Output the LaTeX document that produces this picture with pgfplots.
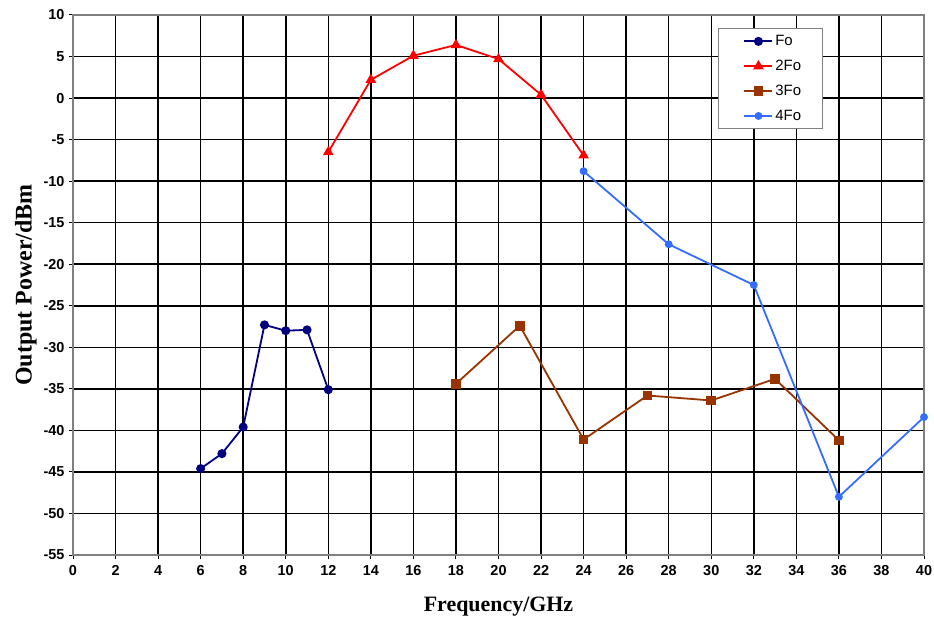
\documentclass[border=0pt]{standalone}
\usepackage{pgfplots}
\pgfplotsset{compat=1.18}
\usepackage{fontspec}
\setmainfont{Liberation Serif}
\setsansfont{Liberation Sans}

\definecolor{foblue}{RGB}{0,0,128}
\definecolor{twored}{RGB}{255,0,0}
\definecolor{threebrown}{RGB}{153,51,0}
\definecolor{fourblue}{RGB}{51,110,255}

\newcommand{\entry}[1]{#1\hspace*{11bp}}

\begin{document}
\begin{tikzpicture}
\useasboundingbox (-73bp,-64bp) rectangle (861bp,555bp);
\begin{axis}[
  at={(0,0)}, anchor=south west,
  scale only axis,
  width=851bp, height=540bp,
  xmin=0, xmax=40, ymin=-55, ymax=10,
  xtick={0,2,...,40}, ytick={-55,-50,...,10},
  grid=major,
  major grid style={black, line width=1.5bp},
  axis line style={gray, line width=1.2bp},
  tick align=outside, major tick length=4bp,
  tick style={black, line width=1bp},
  xtick pos=bottom, ytick pos=left,
  /pgf/number format/assume math mode=true,
  ticklabel style={font=\sffamily\bfseries\fontsize{14.5}{15}\selectfont},
  xticklabel style={yshift=-3bp},
  yticklabel style={xshift=-1bp},
  xlabel={\bfseries Frequency/GHz},
  ylabel={\bfseries Output Power/dBm},
  xlabel style={font=\fontsize{22}{24}\selectfont, yshift=-14bp},
  ylabel style={font=\fontsize{24}{26}\selectfont, yshift=0bp},
  legend style={at={(0.758,0.975)}, anchor=north west, draw=gray,
    font=\sffamily\fontsize{15}{17}\selectfont, row sep=9bp,
    inner xsep=8bp, inner ysep=4.5bp, line width=1bp},
  legend image code/.code={%
    \path (-11bp,0bp);
    \draw[mark repeat=2,mark phase=2] plot coordinates {(6bp,0bp) (20bp,0bp) (34bp,0bp)};},
  legend cell align=left,
  every axis plot/.append style={line width=1.8bp},
]
\addplot[color=foblue, mark=*, mark size=3.6bp, mark options={solid}] coordinates {
  (6,-44.6) (7,-42.8) (8,-39.6) (9,-27.3) (10,-28.0) (11,-27.9) (12,-35.1)};
\addlegendentry{\entry{Fo}}
\addplot[color=twored, mark=triangle*, mark size=4.4bp] coordinates {
  (12,-6.5) (14,2.2) (16,5.1) (18,6.4) (20,4.7) (22,0.4) (24,-6.9)};
\addlegendentry{\entry{2Fo}}
\addplot[color=threebrown, mark=square*, mark size=3.9bp] coordinates {
  (18,-34.4) (21,-27.4) (24,-41.1) (27,-35.8) (30,-36.4) (33,-33.8) (36,-41.2)};
\addlegendentry{\entry{3Fo}}
\addplot[color=fourblue, mark=*, mark size=3bp] coordinates {
  (24,-8.8) (28,-17.6) (32,-22.5) (36,-48.0) (40,-38.4)};
\addlegendentry{\entry{4Fo}}
\end{axis}
\end{tikzpicture}
\end{document}
